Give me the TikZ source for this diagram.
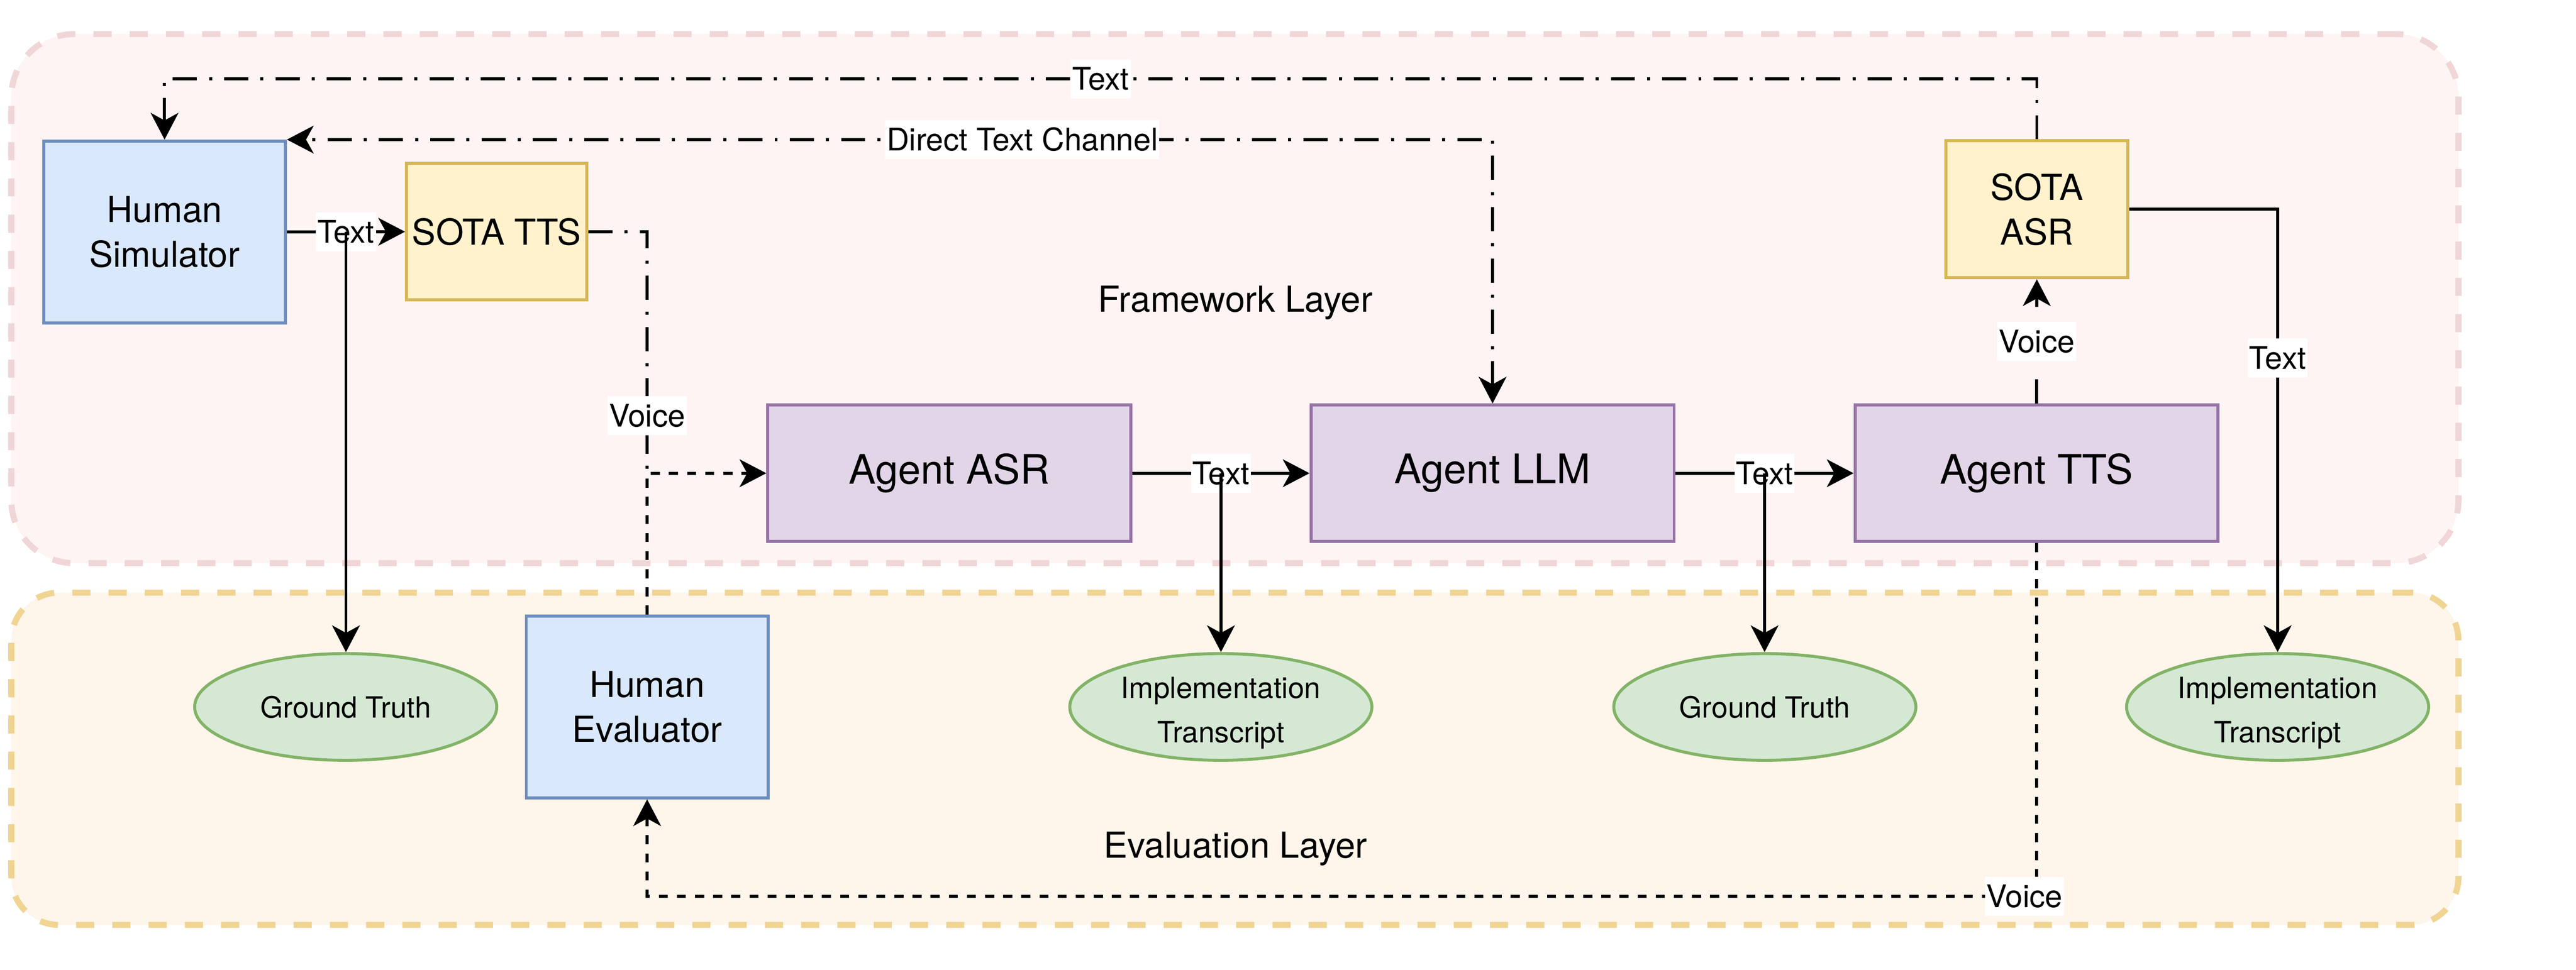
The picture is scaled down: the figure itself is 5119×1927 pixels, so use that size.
\documentclass[tikz,border=0pt]{standalone}
\usepackage{fontspec}
\setmainfont{TeX Gyre Heros}
\usetikzlibrary{arrows.meta,shapes.geometric}
\newcommand{\fLbl}{\fontsize{17.6pt}{21pt}\selectfont}
\newcommand{\fBox}{\fontsize{20.2pt}{25.3pt}\selectfont}
\newcommand{\fAgent}{\fontsize{23pt}{28pt}\selectfont}
\newcommand{\fEll}{\fontsize{16.5pt}{25pt}\selectfont}
\newcommand{\twolines}[2]{\raisebox{-0.245cm}[0pt][0pt]{\begin{tabular}{@{}c@{}}#1\\#2\end{tabular}}}
\definecolor{fwfill}{HTML}{FEF4F3}
\definecolor{fwline}{HTML}{F0D6D7}
\definecolor{evfill}{HTML}{FEF5EB}
\definecolor{evline}{HTML}{F0D492}
\definecolor{bluefill}{HTML}{DAE8FC}
\definecolor{blueline}{HTML}{6C8EBF}
\definecolor{yelfill}{HTML}{FFF2CC}
\definecolor{yelline}{HTML}{D6B656}
\definecolor{purfill}{HTML}{E1D5E7}
\definecolor{purline}{HTML}{9673A6}
\definecolor{grnfill}{HTML}{D5E8D4}
\definecolor{grnline}{HTML}{82B366}
\begin{document}
\begin{tikzpicture}[x=0.01cm,y=-0.01cm,
  arw/.tip={Stealth[length=0.53cm,width=0.55cm,inset=0.15cm]},
  layerbox/.style={rounded corners=#1, line width=3.4pt, dash pattern=on 0.36cm off 0.36cm, inner sep=0pt},
  box/.style={draw, line width=1.7pt, align=center, inner sep=0pt},
  humanbox/.style={box, draw=blueline, fill=bluefill, minimum width=4.8cm, minimum height=3.61cm, font=\fBox},
  sotabox/.style={box, draw=yelline, fill=yelfill, font=\fBox},
  agentbox/.style={box, draw=purline, fill=purfill, minimum width=7.21cm, minimum height=2.71cm, font=\fAgent},
  ellnode/.style={ellipse, draw=grnline, fill=grnfill, line width=1.7pt, minimum width=6cm, minimum height=2.12cm, inner sep=0pt, align=center, font=\fEll},
  lbl/.style={fill=white, inner xsep=0.03cm, inner ysep=0pt, minimum height=0.78cm, font=\fLbl},
  conn/.style={line width=1.7pt, -arw},
  dashdot/.style={line width=1.7pt, dash pattern=on 0.48cm off 0.24cm on 0.06cm off 0.24cm},
  dsh/.style={line width=1.7pt, dash pattern=on 0.18cm off 0.18cm},
  longdsh/.style={line width=1.7pt, dash pattern=on 0.48cm off 0.48cm}]
\useasboundingbox (0,0) rectangle (5119,1927);

% layers
\node[layerbox=1.25cm, draw=fwline, fill=fwfill, minimum width=48.6cm, minimum height=10.51cm] (fw) at (2454,593.5) {};
\node[layerbox=0.95cm, draw=evline, fill=evfill, minimum width=48.6cm, minimum height=6.6cm] (ev) at (2454,1508) {};
\node[anchor=base, font=\fBox] (fwt) at (2455,620) {Framework Layer};
\node[anchor=base, font=\fBox] (evt) at (2455,1705) {Evaluation Layer};

% boxes
\node[humanbox] (hs) at (327,461) {Human\\Simulator};
\node[sotabox, minimum width=3.58cm, minimum height=2.71cm] (tts) at (987,460.5) {SOTA TTS};
\node[sotabox, minimum width=3.61cm, minimum height=2.72cm] (sasr) at (4047.5,416) {SOTA\\ASR};
\node[agentbox] (aasr) at (1886.5,940.5) {Agent ASR};
\node[agentbox] (llm) at (2966,940.5) {Agent LLM};
\node[agentbox] (atts) at (4047,940.5) {Agent TTS};
\node[humanbox] (he) at (1286,1405) {Human\\Evaluator};
\node[ellnode] (gt1) at (687,1405) {Ground Truth};
\node[ellnode] (it1) at (2426,1405) {\twolines{Implementation}{Transcript}};
\node[ellnode] (gt2) at (3507,1405) {Ground Truth};
\node[ellnode] (it2) at (4526,1405) {\twolines{Implementation}{Transcript}};

% connectors
\coordinate (j1) at (he.north |- aasr.west);
\coordinate (vb) at (0,1781);

\draw[dashdot, -arw] (sasr.north) -- ++(0,-120) -| node[lbl, pos=0.25] (ltop) {Text} (hs.north);
\draw[dashdot, arw-arw] (llm.north) |- node[lbl, pos=0.695] (ldir) {Direct Text Channel} (hs.north east);

\draw[conn] (hs.east) -- node[lbl] (l1) {Text} (tts.west);
\draw[dashdot] (tts.east) -| (j1);
\draw[dsh, -arw] (he.north) -- (j1) -- (aasr.west);
\node[lbl] (v1) at (1286,826) {Voice};

\draw[conn] (aasr.east) -- node[lbl] (l2) {Text} (llm.west);
\draw[conn] (llm.east) -- node[lbl] (l3) {Text} (atts.west);
\draw[longdsh, -arw] (atts.north) -- node[lbl, pos=0.5] (v2) {Voice} (sasr.south);
\draw[conn] (sasr.east) -| node[lbl, pos=0.668] (l4) {Text} (it2.north);

\draw[dsh, -arw] (atts.south) -- (atts.south |- vb) -| (he.south);
\node[lbl] (v3) at (4023,1781) {Voice};

% drops drawn over their labels
\draw[conn] (l1.center) -- (l1.center |- gt1.north);
\draw[conn] (l2.center) -- (l2.center |- it1.north);
\draw[conn] (l3.center) -- (l3.center |- gt2.north);
\end{tikzpicture}
\end{document}
